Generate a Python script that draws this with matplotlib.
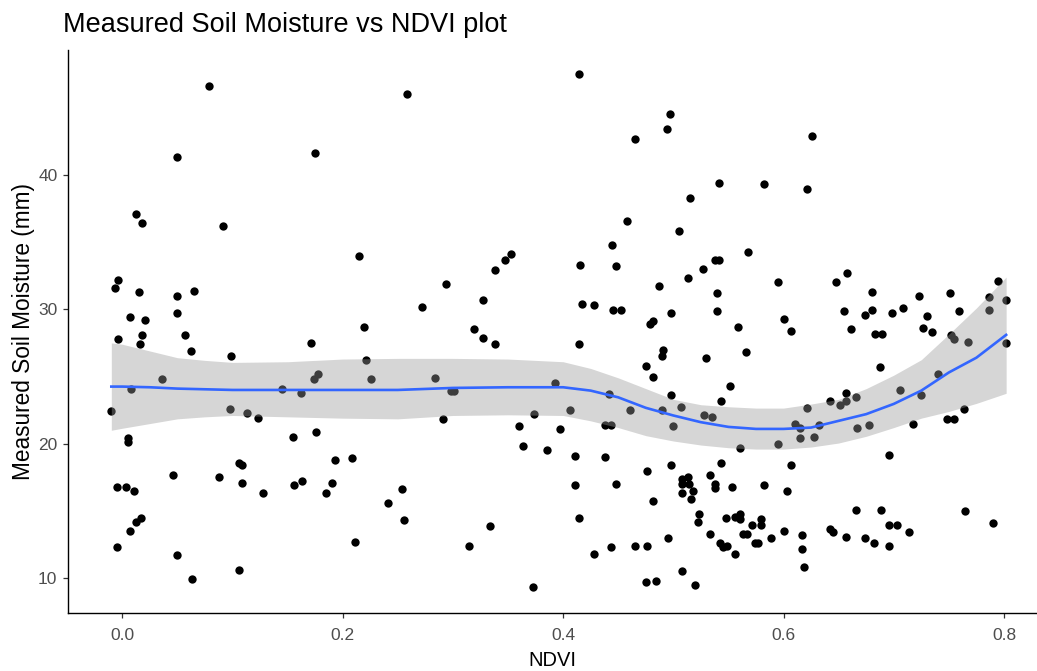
import matplotlib
matplotlib.use("Agg")
import matplotlib.pyplot as plt

# scatter data (NDVI, measured soil moisture in mm)
ndvi = [
    0.079, 0.050, 0.175, 0.012, 0.018, 0.091, 0.215, -0.004, -0.007, 0.015,
    0.050, 0.065, 0.050, 0.007, 0.021, 0.018, -0.004, 0.057, 0.219,
    0.016, 0.062, 0.099, 0.171, 0.221, 0.036, 0.008, -0.010, 0.098, 0.113,
    0.123, 0.145, 0.162, 0.174, 0.178, 0.226, 0.005, 0.005, 0.155, 0.176,
    0.106, 0.109, 0.193, 0.208, 0.046, 0.088, 0.109, 0.156, 0.163, 0.190,
    0.185, 0.128, -0.005, 0.003, 0.011, 0.241, 0.017, 0.012, 0.007, -0.005,
    0.211, 0.050, 0.106, 0.063,
    0.258, 0.414, 0.497, 0.494, 0.465, 0.5415, 0.515, 0.458, 0.505, 0.444,
    0.415, 0.448, 0.353, 0.347, 0.338, 0.294, 0.272, 0.327, 0.319, 0.327,
    0.417, 0.428, 0.4457, 0.4527, 0.479, 0.482, 0.487, 0.498, 0.513, 0.527,
    0.5376, 0.541, 0.5397, 0.5397,
    0.338, 0.414, 0.491, 0.490, 0.530, 0.475, 0.482, 0.284, 0.298, 0.301,
    0.393, 0.442, 0.291, 0.374, 0.406, 0.461, 0.498, 0.507, 0.490, 0.4997,
    0.528, 0.535, 0.5436, 0.360, 0.3975, 0.4376, 0.443, 0.364, 0.385, 0.4112,
    0.4376, 0.498, 0.476, 0.533, 0.5436, 0.5075, 0.5134, 0.508, 0.514, 0.518,
    0.508, 0.516, 0.5376, 0.538, 0.448, 0.411, 0.254, 0.482, 0.414, 0.2555,
    0.334, 0.523, 0.522, 0.533, 0.542, 0.495, 0.315, 0.428, 0.443, 0.465,
    0.476, 0.508, 0.475, 0.4845, 0.520, 0.3727,
    0.6255, 0.5824, 0.621, 0.5676, 0.595, 0.6475, 0.658, 0.6806, 0.723, 0.751,
    0.795, 0.7867, 0.802, 0.7867, 0.6545, 0.6736, 0.6806, 0.6985, 0.708, 0.730,
    0.759, 0.559, 0.6006, 0.607, 0.661, 0.683, 0.689, 0.727, 0.735, 0.752,
    0.7545, 0.7675, 0.802,
    0.566, 0.6876, 0.740, 0.551, 0.657, 0.6655, 0.657, 0.6515, 0.642, 0.7055,
    0.7248, 0.6215, 0.610, 0.6145, 0.632, 0.628, 0.6145, 0.595, 0.5606, 0.667,
    0.678, 0.7176, 0.7485, 0.755, 0.7636, 0.6957, 0.607, 0.5534, 0.5824, 0.603,
    0.6655, 0.6888, 0.765, 0.7897, 0.548, 0.556, 0.5606, 0.5606, 0.5712, 0.5794,
    0.5794, 0.5633, 0.567, 0.574, 0.577, 0.589, 0.6006, 0.5455, 0.549, 0.556,
    0.617, 0.617, 0.6185, 0.642, 0.6445, 0.657, 0.6736, 0.682, 0.6957, 0.6957,
    0.7027, 0.714,
]
moisture = [
    46.6, 41.3, 41.65, 37.06, 36.4, 36.2, 34.0, 32.2, 31.6, 31.3,
    30.96, 31.4, 29.7, 29.4, 29.2, 28.1, 27.8, 28.1, 28.7,
    27.4, 26.9, 26.5, 27.5, 26.2, 24.8, 24.1, 22.4, 22.6, 22.3,
    21.9, 24.1, 23.75, 24.8, 25.2, 24.8, 20.4, 20.1, 20.5, 20.9,
    18.6, 18.4, 18.8, 18.9, 17.7, 17.5, 17.1, 16.9, 17.2, 17.1,
    16.35, 16.35, 16.8, 16.8, 16.5, 15.6, 14.5, 14.2, 13.5, 12.3,
    12.7, 11.7, 10.6, 9.9,
    46.05, 47.5, 44.5, 43.4, 42.7, 39.4, 38.3, 36.6, 35.8, 34.8,
    33.3, 33.2, 34.1, 33.7, 32.9, 31.9, 30.2, 30.7, 28.5, 27.9,
    30.4, 30.3, 29.97, 29.97, 28.9, 29.1, 31.75, 29.7, 32.3, 33.0,
    33.7, 33.7, 31.2, 29.85,
    27.4, 27.4, 27.0, 26.5, 26.35, 25.8, 25.0, 24.9, 23.9, 23.9,
    24.5, 23.7, 21.85, 22.2, 22.5, 22.5, 23.6, 22.7, 22.5, 21.3,
    22.1, 22.0, 23.2, 21.3, 21.1, 21.4, 21.4, 19.8, 19.5, 19.1,
    19.0, 18.4, 18.0, 17.7, 18.6, 17.36, 17.5, 16.99, 16.99, 16.47,
    16.35, 15.9, 17.0, 16.67, 17.0, 16.9, 16.6, 15.7, 14.5, 14.3,
    13.9, 14.76, 14.2, 13.3, 12.6, 13.0, 12.4, 11.8, 12.3, 12.4,
    12.4, 10.5, 9.7, 9.8, 9.5, 9.36,
    42.9, 39.3, 38.96, 34.25, 32.0, 32.0, 32.7, 31.3, 30.96, 31.2,
    32.1, 30.9, 30.7, 29.96, 29.85, 29.6, 29.96, 29.7, 30.07, 29.5,
    29.85, 28.7, 29.3, 28.4, 28.5, 28.15, 28.15, 28.6, 28.3, 28.07,
    27.8, 27.6, 27.5,
    26.8, 25.7, 25.2, 24.3, 23.8, 23.5, 23.2, 22.9, 23.2, 24.0,
    23.65, 22.67, 21.5, 21.2, 21.4, 20.5, 20.4, 19.95, 19.7, 21.2,
    21.4, 21.5, 21.85, 21.85, 22.6, 19.16, 18.4, 16.8, 16.9, 16.5,
    15.1, 15.05, 14.99, 14.1, 14.5, 14.57, 14.74, 14.4, 13.95, 14.4,
    13.95, 13.3, 13.3, 12.6, 12.6, 13.0, 13.5, 12.3, 12.4, 11.8,
    13.2, 12.2, 10.8, 13.65, 13.4, 13.06, 12.96, 12.6, 12.4, 13.98,
    13.98, 13.4,
]

# loess smooth and its confidence band
smooth_x = [-0.010, 0.0, 0.025, 0.05, 0.075, 0.1, 0.15, 0.2, 0.25, 0.3,
            0.35, 0.4, 0.425, 0.45, 0.475, 0.5, 0.525, 0.55, 0.575, 0.6,
            0.625, 0.65, 0.675, 0.7, 0.725, 0.75, 0.775, 0.802]
smooth_y = [24.25, 24.25, 24.2, 24.1, 24.05, 24.0, 24.0, 24.0, 24.0, 24.15,
            24.2, 24.2, 23.95, 23.45, 22.67, 22.1, 21.6, 21.25, 21.1, 21.1,
            21.2, 21.7, 22.2, 22.96, 23.95, 25.3, 26.4, 28.1]
smooth_lo = [21.0, 21.15, 21.5, 21.85, 22.0, 22.1, 22.0, 21.9, 21.85, 22.1,
             22.15, 22.1, 21.7, 21.2, 20.6, 20.2, 19.9, 19.7, 19.6, 19.6,
             19.75, 20.05, 20.55, 21.2, 21.9, 22.4, 23.0, 23.75]
smooth_hi = [27.5, 27.4, 26.9, 26.4, 26.2, 26.05, 26.1, 26.3, 26.35, 26.35,
             26.3, 26.1, 25.6, 24.9, 24.1, 23.3, 22.9, 22.75, 22.65, 22.65,
             22.95, 23.3, 24.1, 25.1, 26.25, 28.15, 30.1, 32.4]

x_ticks = [0.0, 0.2, 0.4, 0.6, 0.8]
y_ticks = [10, 20, 30, 40]

plt.rcParams['font.family'] = ['Liberation Sans', 'DejaVu Sans']

fig = plt.figure(figsize=(10.37, 6.71), dpi=100)
ax = fig.add_axes([68 / 1037, 58 / 671, 1 - 68 / 1037, (613 - 50) / 671])

ax.scatter(ndvi, moisture, s=36, c='black', linewidths=0, zorder=2)
ax.fill_between(smooth_x, smooth_lo, smooth_hi, color='#999999', alpha=0.4,
                linewidth=0, zorder=3)
ax.plot(smooth_x, smooth_y, color='#3366FF', linewidth=1.9, zorder=4)

ax.set_xlim(-0.0493, 0.83)
ax.set_ylim(7.4, 49.3)
ax.set_xticks(x_ticks)
ax.set_xticklabels(['0.0', '0.2', '0.4', '0.6', '0.8'])
ax.set_yticks(y_ticks)

for side in ['top', 'right']:
    ax.spines[side].set_visible(False)
for side in ['left', 'bottom']:
    ax.spines[side].set_color('black')
    ax.spines[side].set_linewidth(1.0)
ax.tick_params(axis='both', colors='#333333', length=3.6, width=0.9,
               labelsize=12.5, labelcolor='#4D4D4D')
ax.tick_params(axis='x', pad=7)
ax.tick_params(axis='y', pad=4)

ax.set_xlabel('NDVI', fontsize=14.5, labelpad=6)
ax.set_ylabel('Measured Soil Moisture (mm)', fontsize=16.3, labelpad=2)

fig.text(63 / 1037, 1 - 32 / 671, 'Measured Soil Moisture vs NDVI plot',
         fontsize=19.5, ha='left', va='baseline')

fig.savefig('out.png', dpi=100)
